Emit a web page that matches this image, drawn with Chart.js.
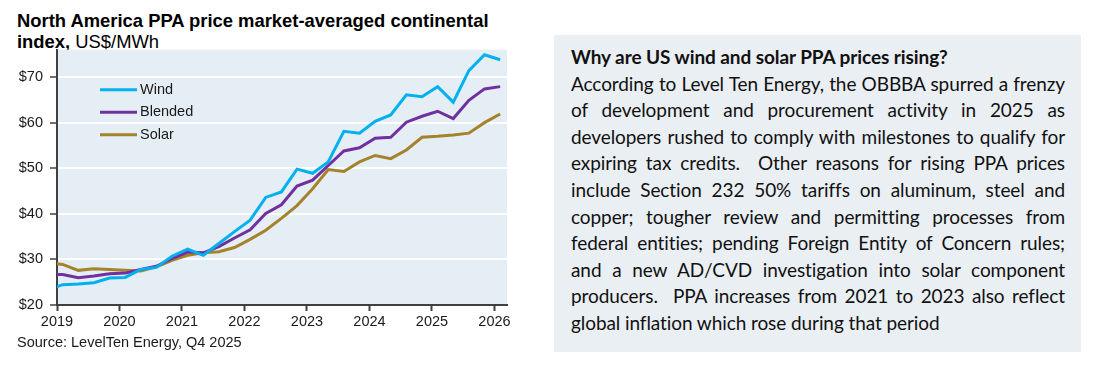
<!DOCTYPE html>
<html>
<head>
<meta charset="utf-8">
<script src="https://cdn.jsdelivr.net/npm/chart.js@4.4.1/dist/chart.umd.min.js"></script>
<style>
  body { margin: 0; background: #fff; width: 1097px; height: 368px; position: relative; overflow: hidden; }
  #title { position: absolute; left: 17px; top: 10px; font-family: "Liberation Sans", Arial, sans-serif; font-size: 18.4px; line-height: 21px; color: #000; }
  #title b { font-weight: bold; }
  #chartBox { position: absolute; left: 0; top: 34px; width: 520px; height: 306px; }
  #source { position: absolute; left: 17px; top: 334px; font-family: "Liberation Sans", Arial, sans-serif; font-size: 14.5px; color: #1a1a1a; }
  #note { position: absolute; left: 554px; top: 35px; width: 527px; height: 317px; background: #eaeff4; box-sizing: border-box; padding: 9px 16px 0 17px; font-family: Lato, "Open Sans", sans-serif; font-size: 19px; line-height: 26.6px; color: #111; }
  #note div { text-align: justify; text-align-last: justify; white-space: nowrap; }
  #note div.last { text-align-last: left; }
  #note div.head { font-weight: bold; text-align-last: left; }
</style>
</head>
<body>
<div id="title"><b>North America PPA price market-averaged continental<br>index,</b> US$/MWh</div>
<div id="chartBox"><canvas id="ppa-chart"></canvas></div>
<div id="source">Source: LevelTen Energy, Q4 2025</div>
<div id="note">
  <div class="head">Why are US wind and solar PPA prices rising?</div>
  <div class="body">According to Level Ten Energy, the OBBBA spurred a frenzy</div>
  <div class="body">of development and procurement activity in 2025 as</div>
  <div class="body">developers rushed to comply with milestones to qualify for</div>
  <div class="body">expiring tax credits.&nbsp; Other reasons for rising PPA prices</div>
  <div class="body">include Section 232 50% tariffs on aluminum, steel and</div>
  <div class="body">copper; tougher review and permitting processes from</div>
  <div class="body">federal entities; pending Foreign Entity of Concern rules;</div>
  <div class="body">and a new AD/CVD investigation into solar component</div>
  <div class="body">producers.&nbsp; PPA increases from 2021 to 2023 also reflect</div>
  <div class="body last">global inflation which rose during that period</div>
</div>
<script>
// quarterly points (decimal years), first one sits just left of the axis
const quarters = [2018.84, 2019.09, 2019.34, 2019.59, 2019.84, 2020.09, 2020.34, 2020.59, 2020.84, 2021.09,
  2021.34, 2021.59, 2021.84, 2022.09, 2022.34, 2022.59, 2022.84, 2023.09, 2023.34, 2023.59,
  2023.84, 2024.09, 2024.34, 2024.59, 2024.84, 2025.09, 2025.34, 2025.59, 2025.84, 2026.09];

const wind = [23.2, 24.45, 24.6, 24.9, 25.9, 26.05, 27.8, 28.25, 30.7, 32.25,
  30.9, 33.5, 36.1, 38.6, 43.6, 44.8, 49.8, 48.9, 51.4, 58.1,
  57.7, 60.3, 61.7, 66.1, 65.7, 67.9, 64.5, 71.4, 74.9, 73.8];

const blended = [26.6, 26.7, 26.0, 26.35, 26.85, 27.0, 27.8, 28.5, 30.2, 31.6,
  31.45, 32.8, 34.7, 36.5, 40.1, 42.0, 46.1, 47.4, 50.6, 53.8,
  54.5, 56.6, 56.8, 60.1, 61.4, 62.5, 60.9, 64.9, 67.4, 67.9];

const solar = [29.3, 28.9, 27.6, 27.95, 27.8, 27.6, 27.45, 28.4, 29.8, 30.9,
  31.45, 31.7, 32.6, 34.4, 36.4, 39.0, 41.8, 45.5, 49.7, 49.3,
  51.4, 52.8, 52.1, 54.0, 56.8, 57.0, 57.3, 57.7, 60.0, 61.9];

const seriesNames = ["Wind", "Blended", "Solar"];
const seriesColors = ["#00b0f0", "#7030a0", "#a3832b"];

// Lato is wider than the original font, so tighten letters until the widest line fits
(function fitNote() {
  const lines = document.querySelectorAll('#note div.body');
  const avail = 494;
  let spacing = 0;
  lines.forEach(el => {
    const span = document.createElement('span');
    span.textContent = el.textContent;
    span.style.whiteSpace = 'pre';
    el.style.textAlignLast = 'left';
    el.appendChild(span);
    const w = span.getBoundingClientRect().width;
    el.removeChild(span);
    el.style.textAlignLast = '';
    const n = el.textContent.length;
    if (w > avail - 4) spacing = Math.min(spacing, (avail - 4 - w) / n);
  });
  document.getElementById('note').style.letterSpacing = spacing + 'px';
})();

function toPoints(values) {
  return quarters.map((q, i) => ({ x: q, y: values[i] }));
}

// light panel behind the plot
const plotBackground = {
  id: 'plotBackground',
  beforeDraw(chart) {
    const a = chart.chartArea;
    const ctx = chart.ctx;
    ctx.save();
    ctx.fillStyle = '#e6eef5';
    ctx.fillRect(a.left, a.top, a.right - a.left, a.bottom - a.top);
    ctx.restore();
  }
};

// legend drawn inside the plot, top-left
const innerLegend = {
  id: 'innerLegend',
  afterDatasetsDraw(chart) {
    const a = chart.chartArea;
    const ctx = chart.ctx;
    ctx.save();
    ctx.font = '14.5px "Liberation Sans", Arial, sans-serif';
    ctx.textBaseline = 'middle';
    chart.data.datasets.forEach((ds, i) => {
      const y = a.top + 40 + i * 22.5;
      ctx.strokeStyle = ds.borderColor;
      ctx.lineWidth = 3;
      ctx.beginPath();
      ctx.moveTo(a.left + 43, y);
      ctx.lineTo(a.left + 80, y);
      ctx.stroke();
      ctx.fillStyle = '#1a1a1a';
      ctx.fillText(ds.label, a.left + 83, y);
    });
    ctx.restore();
  }
};

new Chart(document.getElementById("ppa-chart"), {
  type: 'line',
  data: {
    datasets: [
      { label: seriesNames[0], data: toPoints(wind), borderColor: seriesColors[0] },
      { label: seriesNames[1], data: toPoints(blended), borderColor: seriesColors[1] },
      { label: seriesNames[2], data: toPoints(solar), borderColor: seriesColors[2] }
    ]
  },
  options: {
    responsive: true,
    maintainAspectRatio: false,
    animation: false,
    layout: { padding: { top: 3, right: 13, left: 0, bottom: 0 } },
    elements: {
      line: { borderWidth: 3, tension: 0 },
      point: { radius: 0 }
    },
    plugins: {
      legend: { display: false },
      tooltip: { enabled: false }
    },
    scales: {
      x: {
        type: 'linear',
        min: 2019,
        max: 2026.2,
        afterFit(scale) { scale.height = 35; },
        ticks: {
          stepSize: 1,
          includeBounds: false,
          maxRotation: 0,
          padding: 2,
          color: '#1a1a1a',
          font: { family: '"Liberation Sans", Arial, sans-serif', size: 14.5 },
          callback: v => String(v)
        },
        grid: { drawOnChartArea: false, tickLength: 6, tickColor: '#404040', tickWidth: 2 },
        border: { color: '#404040', width: 2 }
      },
      y: {
        min: 20,
        max: 76,
        afterFit(scale) { scale.width = 57; },
        ticks: {
          stepSize: 10,
          includeBounds: false,
          padding: 7,
          color: '#1a1a1a',
          font: { family: '"Liberation Sans", Arial, sans-serif', size: 14.5 },
          callback: v => '$' + v
        },
        grid: {
          color: c => (c.tick && c.tick.value === 20) ? 'rgba(0,0,0,0)' : '#ffffff',
          lineWidth: 2,
          tickLength: 7,
          tickColor: '#404040',
          tickWidth: 1.5
        },
        border: { color: '#404040', width: 2 }
      }
    }
  },
  plugins: [plotBackground, innerLegend]
});
</script>
</body>
</html>
